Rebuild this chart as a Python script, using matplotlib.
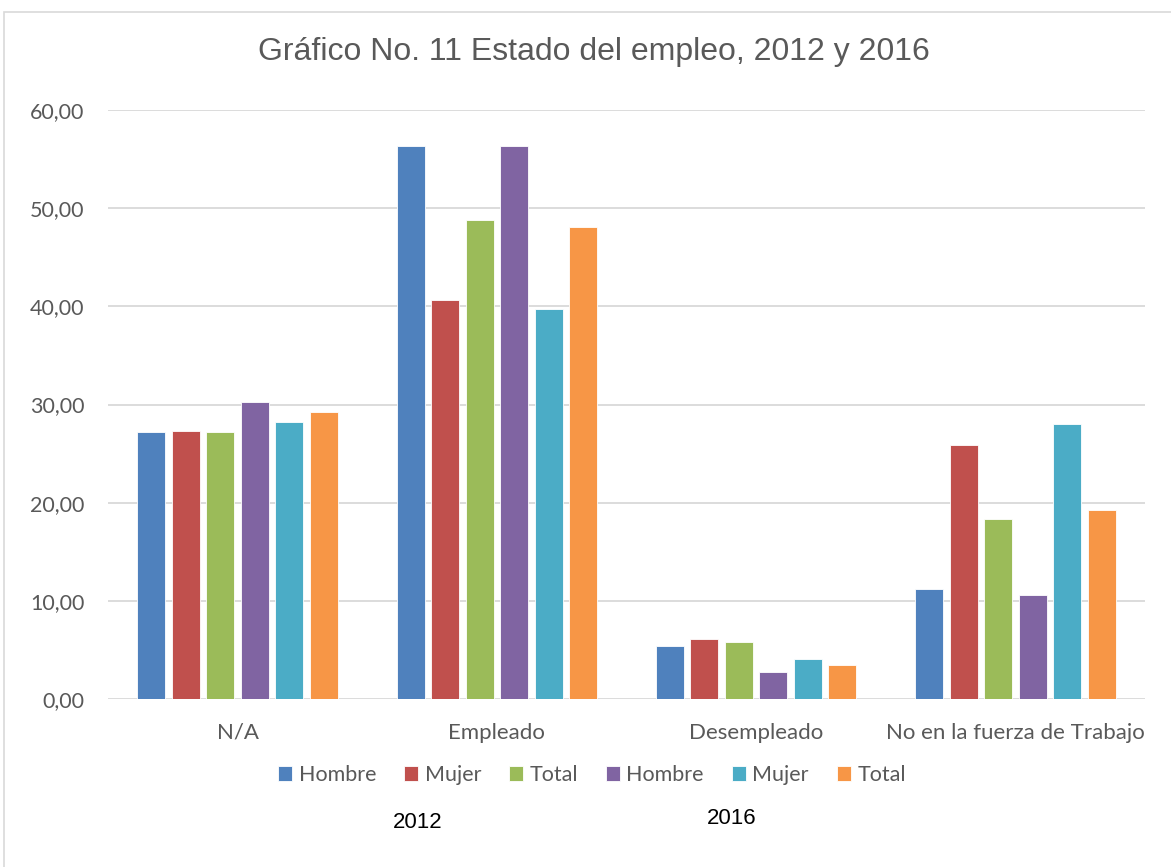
import matplotlib.pyplot as plt
import numpy as np
from matplotlib.patches import Rectangle

categories = ['N/A', 'Empleado', 'Desempleado', 'No en la fuerza de Trabajo']
series_labels = ['Hombre', 'Mujer', 'Total', 'Hombre', 'Mujer', 'Total']
hombre_2012 = [27.17, 56.33, 5.40, 11.17]
mujer_2012 = [27.30, 40.64, 6.14, 25.90]
total_2012 = [27.23, 48.76, 5.77, 18.33]
hombre_2016 = [30.29, 56.36, 2.78, 10.60]
mujer_2016 = [28.18, 39.69, 4.07, 28.00]
total_2016 = [29.27, 48.11, 3.46, 19.22]
yticks = [0, 10, 20, 30, 40, 50, 60]
ytick_labels = ['0,00', '10,00', '20,00', '30,00', '40,00', '50,00', '60,00']

colors = ['#4f81bd', '#c0504d', '#9bbb59', '#8064a2', '#4bacc6', '#f79646']
series = [hombre_2012, mujer_2012, total_2012, hombre_2016, mujer_2016, total_2016]

W, H = 1171, 867
fig = plt.figure(figsize=(W / 100, H / 100), dpi=100)
ax = fig.add_axes([108 / W, 1 - 699 / H, (1145 - 108) / W, (699 - 110) / H])

# chart border (cut off at the right and bottom in the reference)
fig.patches.append(Rectangle((4 / W, -0.1), 1.2, 1 - 12 / H + 0.1, transform=fig.transFigure,
                             fill=False, edgecolor='#d9d9d9', linewidth=1.2))

x = np.arange(len(categories))
step = 0.133
width = 0.108
for j, (vals, col, lab) in enumerate(zip(series, colors, series_labels)):
    ax.bar(x + (j - 2.5) * step, vals, width, color=col, label=lab,
           edgecolor='white', linewidth=0.6, zorder=3)

ax.set_xlim(-0.5, 3.5)
ax.set_ylim(0, 60)
ax.set_yticks(yticks)
ax.set_yticklabels(ytick_labels, fontsize=15.5, color='#595959', family='Lato')
ax.set_xticks(x)
ax.set_xticklabels(categories, fontsize=16, color='#595959', family='Lato')
ax.tick_params(axis='y', length=0, pad=17)
ax.tick_params(axis='x', length=0, pad=17)
ax.grid(axis='y', color='#d9d9d9', linewidth=1.3, zorder=0)
for s in ax.spines.values():
    s.set_visible(False)

fig.text(594 / W, 1 - 52 / H, 'Gráfico No. 11 Estado del empleo, 2012 y 2016', ha='center', va='center',
         fontsize=23, color='#595959', family='Liberation Sans')

leg = fig.legend(loc='center', bbox_to_anchor=(592 / W, 1 - 775 / H), ncol=6, frameon=False,
                 handlelength=0.65, handleheight=0.65, handletextpad=0.3, columnspacing=1.3,
                 prop={'family': 'Lato', 'size': 15.5})
for t in leg.get_texts():
    t.set_color('#595959')

fig.text(418 / W, 1 - 822 / H, '2012', ha='center', va='center', fontsize=16, color='black',
         family='Liberation Sans')
fig.text(732 / W, 1 - 818 / H, '2016', ha='center', va='center', fontsize=16, color='black',
         family='Liberation Sans')

fig.savefig('out.png', dpi=100)
